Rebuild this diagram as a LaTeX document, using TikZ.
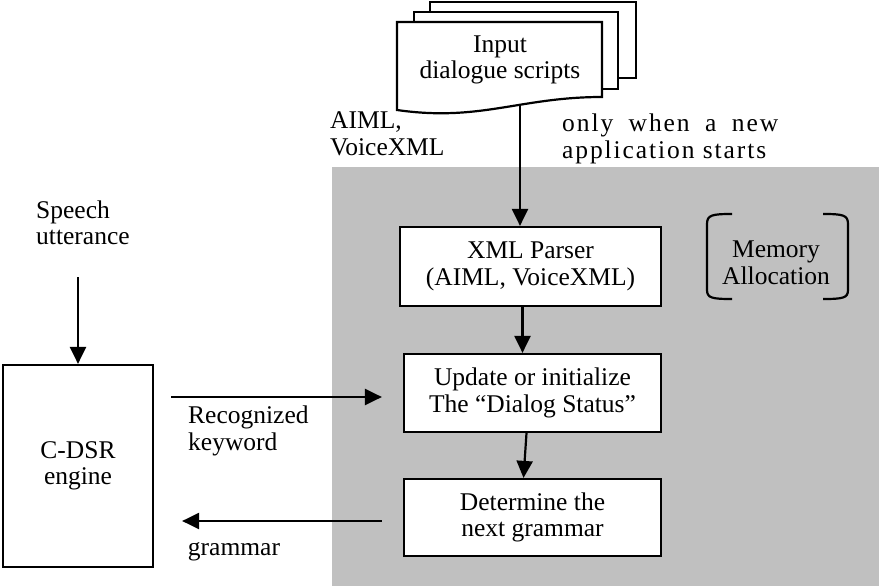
\documentclass[tikz,border=0pt]{standalone}
\usepackage{fontspec}
\setmainfont{Liberation Serif}
\usetikzlibrary{arrows.meta}
\usetikzlibrary{math}

\definecolor{panelgray}{RGB}{192,192,192}

\tikzset{
    block/.style={draw=black, line width=2.2pt, fill=white, align=center, inner sep=0pt},
    flow/.style={black, line width=2.2pt, -{Triangle[length=17pt, width=16pt]}},
    caption/.style={align=left, inner sep=0pt},
}

\begin{document}
\begin{tikzpicture}[x=1pt, y=-1pt, font=\fontsize{25.5}{26.5}\selectfont]

% Position settings
\tikzmath{
    \BoxWidth = 257;
    \BoxMid = 532.5;
}

\useasboundingbox (0,0) rectangle (881,586);

% Draws shaded panel
\fill [panelgray] (332,167) rectangle (879,586);

% Draws stack of scripts
\draw [black, line width=2.2pt, fill=white] (430,2) rectangle (636,78);
\draw [black, line width=2.2pt, fill=white] (414,12) rectangle (618,89);
\draw [black, line width=2.2pt, fill=white] 
    (397,22) -- (602,22) -- (602,97) .. controls (520,97) and (480,122) .. (397,110) -- cycle;
\node [align=center, inner sep=0pt] (scripts) at (500,60) {Input\\dialogue scripts};
\coordinate (ScriptsEnd) at (520,105);

% Draws blocks
\node [block, minimum width=261pt, minimum height=79pt] (parser) at (530.5,266.5) {XML Parser\\(AIML, VoiceXML)};
\node [block, minimum width=\BoxWidth pt, minimum height=78pt] (status) at (\BoxMid,393) {Update or initialize\\The ``Dialog Status''};
\node [block, minimum width=\BoxWidth pt, minimum height=77pt] (nextgram) at (\BoxMid,517.5) {Determine the\\next grammar};
\node [block, minimum width=150pt, minimum height=202pt] (engine) at (78,466) {C-DSR\\engine};

% Memory allocation with brackets
\node [align=center, inner sep=0pt] (memory) at (776,263) {Memory\\Allocation};
\draw [black, line width=2.2pt] 
    (732,214) .. controls (712,214) and (707,215) .. (707,224) -- (707,290) .. controls (707,298) and (712,299) .. (732,299);
\draw [black, line width=2.2pt] 
    (823,214) .. controls (843,214) and (848,215) .. (848,224) -- (848,290) .. controls (848,298) and (843,299) .. (823,299);

% Write out labels
\node [caption, anchor=west] (speech) at (36,223) {Speech\\utterance};
\node [caption, anchor=west] (formats) at (330,134) {AIML,\\VoiceXML};
\node [anchor=west, inner sep=0pt, text width=216pt, align=justify] (when) at (562,139) 
    {\addfontfeature{LetterSpace=7.5}only when a new\linebreak application starts};
\node [caption, anchor=west] (keyword) at (188,431) {Recognized\\keyword};
\node [caption] (grammar) at (234,552) {grammar};

% Draws arrows
\coordinate (SpeechStart) at (78,277);
\coordinate (KeywordIn) at ([yshift=-4pt]status.west);
\coordinate (GrammarOut) at ([yshift=-3.5pt]nextgram.west);
\draw [flow] (SpeechStart) -- (engine.north);
\draw [flow] (ScriptsEnd) -- (ScriptsEnd |- parser.north);
\draw [flow] ([xshift=-8pt]parser.south) -- ([xshift=-8pt]parser.south |- status.north);
\draw [flow] ([xshift=-6pt]status.south) -- ([xshift=-9pt]nextgram.north);
\draw [flow, shorten <=17pt, shorten >=21pt] (engine.east |- KeywordIn) -- (KeywordIn);
\draw [flow, shorten <=21pt, shorten >=28pt] (GrammarOut) -- (engine.east |- GrammarOut);

\end{tikzpicture}
\end{document}
